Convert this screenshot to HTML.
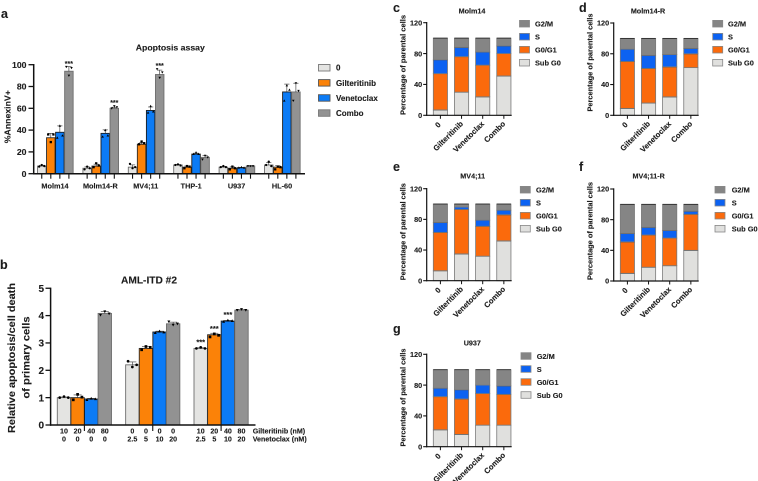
<!DOCTYPE html>
<html lang="en">
<head>
<meta charset="utf-8">
<title>Apoptosis and cell cycle figure</title>
<style>
html,body{margin:0;padding:0;background:#fff;width:758px;height:481px;overflow:hidden}
svg{display:block;filter:blur(.3px)}
text{font-family:"Liberation Sans",sans-serif;font-weight:bold;fill:#1c1c1c;stroke:#1c1c1c;stroke-width:.12px}
</style>
</head>
<body>
<svg id="fig" xmlns="http://www.w3.org/2000/svg" width="758" height="481" viewBox="0 0 758 481"></svg>
<script>
/* ---------- Panel a data ---------- */
const aGroups = ['Molm14','Molm14-R','MV4;11','THP-1','U937','HL-60'];
const aSeriesNames = ['0','Gilteritinib','Venetoclax','Combo'];
const aTicks = [0,20,40,60,80,100];
const aMeans0 = [7,5,6,8,6,8];
const aMeans1 = [33,7,27,6,5,6];
const aMeans2 = [38,37,58,18,5.5,75];
const aMeans3 = [94,60,91,15,7,75];
const aReps0 = [[6.5,8,7],[4,6.5,5],[9,5,6],[8,8.5,7.5],[6,7,6],[8,11,7]];
const aReps1 = [[36,29,36],[6,9.5,7.5],[27,29.5,28],[5,7,6.5],[4,6.5,5],[4,6.5,6]];
const aReps2 = [[33,44,35],[34,40,35],[56,62,57],[18,19.5,18],[5.5,6,5.5],[67,81,77]];
const aReps3 = [[98,90,97],[60,62,61],[96,88,93],[13,16.5,15],[7,7,7],[67,83,76]];
const aSig3 = ['***','***','***','','',''];

/* ---------- Panel b data ---------- */
const bTicks = [0,1,2,3,4,5];
const bGilt = ['10','20','40','80','0','0','0','0','10','20','40','80'];
const bVen = ['0','0','0','0','2.5','5','10','20','2.5','5','10','20'];
const bMeans = [1,1,0.95,4.08,2.2,2.8,3.4,3.7,2.8,3.3,3.8,4.2];
const bReps = [[1,1.04,1],[0.92,1.12,1.02],[0.92,0.97,0.95],[4.02,4.15,4.07],[2.33,2.12,2.2],[2.75,2.87,2.84],[3.37,3.43,3.39],[3.78,3.66,3.7],[2.8,2.84,2.8],[3.22,3.33,3.28],[3.78,3.83,3.81],[4.2,4.23,4.2]];
const bSig = ['','','','','','','','','***','***','***',''];

/* ---------- Stacked panels data ---------- */
const stackCats = ['0','Gilteritinib','Venetoclax','Combo'];
const stackTicks = [0,40,80,120];
const stackLegend = ['G2/M','S','G0/G1','Sub G0'];
const cSub = [7,30,24,51];
const cG0 = [47,46,41,29];
const cS = [18,12,17,10];
const cG2 = [28,12,18,10];
const dSub = [9,16,24,62];
const dG0 = [61,45,39,18];
const dS = [16,17,16,7];
const dG2 = [14,22,21,13];
const eSub = [13,35,32,52];
const eG0 = [50,58,39,34];
const eS = [13,3,8,6];
const eG2 = [24,4,21,8];
const fSub = [10,18,20,40];
const fG0 = [41,42,36,47];
const fS = [11,10,10,4];
const fG2 = [38,30,34,9];
const gSub = [22,16,28,28];
const gG0 = [43,46,41,40];
const gS = [11,12,11,11];
const gG2 = [24,26,20,21];

const svg = document.getElementById('fig');
const NS = 'http://www.w3.org/2000/svg';
function add(parent, tag, attrs, name, txt){
  const el = document.createElementNS(NS, tag);
  for (const k in attrs) el.setAttribute(k, attrs[k]);
  
  
  if (txt !== undefined) el.textContent = txt;
  parent.appendChild(el);
  return el;
}
function line(p,x1,y1,x2,y2,stroke,w,name){
  return add(p,'line',{x1:x1,y1:y1,x2:x2,y2:y2,stroke:stroke,'stroke-width':w},name);
}
function text(p,x,y,s,size,anchor,name,extra){
  const a = Object.assign({x:x,y:y,'font-size':size,'text-anchor':anchor||'start'},extra||{});
  return add(p,'text',a,name,s);
}
function vtext(p,x,cy,s,size,len,name){
  return add(p,'text',{transform:'translate('+x+','+cy+') rotate(-90)','font-size':size,'text-anchor':'middle',textLength:len,lengthAdjust:'spacingAndGlyphs'},name,s);
}
function marker(p,kind,x,y,r,name){
  if (kind===0) return add(p,'circle',{cx:x,cy:y,r:r,fill:'#000'},name);
  if (kind===1) return add(p,'rect',{x:x-r,y:y-r,width:2*r,height:2*r,fill:'#000'},name);
  const s = kind===2 ? 1 : -1;
  const pts = [x,y-s*r*1.15,x-r*1.1,y+s*r*.85,x+r*1.1,y+s*r*.85].map(v=>v.toFixed(2)).join(' ');
  return add(p,'polygon',{points:pts,fill:'#000'},name);
}
function sd(a){
  const m = a.reduce((s,v)=>s+v,0)/a.length;
  return Math.sqrt(a.reduce((s,v)=>s+(v-m)*(v-m),0)/(a.length-1));
}
/* Panel letters */
[['a',1,18],['b',0,269],['c',393,12],['d',579,12],['e',393,171],['f',579,171],['g',393,333]].forEach(l=>{
  text(svg,l[1],l[2],l[0],12.5,'start','panel-label-'+l[0]);
});

/* ========== Panel a ========== */
(function(){
  const g = add(svg,'g',{},'apoptosis-assay-chart');
  const y = v => 173.7 - v*1.09;
  const colors = ['#e4e4e2','#fb8208','#0c7bf5','#929292'];
  const edges = ['#6e6e6e','#2a2a2a','#1c1c1c','#6e6e6e'];
  const means = [aMeans0,aMeans1,aMeans2,aMeans3];
  const reps = [aReps0,aReps1,aReps2,aReps3];
  const bx = (gi,si) => 37.5 + gi*45.4 + si*9.05;
  means.forEach((ser,si)=>{
    ser.forEach((v,gi)=>{
      const x = bx(gi,si);
      add(g,'rect',{x:x,y:y(v),width:8.5,height:y(0)-y(v),fill:colors[si],stroke:edges[si],'stroke-width':.9},'bar-'+aGroups[gi]+'-'+aSeriesNames[si]);
      const top = y(v+sd(reps[si][gi]));
      const cx = x+4.25;
      line(g,cx,y(v),cx,top,'#333',.6,'error-bar');
      line(g,cx-2.6,top,cx+2.6,top,'#333',.6,'error-cap');
      reps[si][gi].forEach((r,i)=>{
        marker(g,si,cx+(i-1)*2.6,y(r),1.15,'replicate-point');
      });
      line(g,cx,173.7,cx,178.7,'#111',1.1,'x-tick');
    });
  });
  aSig3.forEach((s,gi)=>{
    if(!s) return;
    const top = y(Math.max.apply(null,aReps3[gi]));
    text(g,bx(gi,3)+4.25,top-1,s,7,'middle','significance-stars');
  });
  line(g,33.7,64,33.7,174.4,'#111',1.5,'y-axis');
  line(g,33,173.7,305,173.7,'#111',1.5,'x-axis');
  aTicks.forEach(t=>{
    line(g,28.5,y(t),33.7,y(t),'#111',1.3,'y-tick');
    text(g,26.5,y(t)+3.1,t,8.7,'end','y-tick-label');
  });
  aGroups.forEach((n,gi)=>{
    text(g,bx(gi,0)+17.5,188.7,n,7.3,'middle','x-category-label');
  });
  vtext(g,10.3,116.7,'%AnnexinV+',8.6,53,'y-axis-title');
  text(g,170.3,50.7,'Apoptosis assay',8.7,'middle','chart-title');
  aSeriesNames.forEach((n,i)=>{
    const yy = 64.5 + i*15.1;
    add(g,'rect',{x:318.5,y:yy,width:11.5,height:6.5,fill:colors[i],stroke:i===0||i===3?'#777':'#555','stroke-width':.9},'legend-swatch');
    text(g,336,yy+6.2,n,8,'start','legend-entry');
  });
})();

/* ========== Panel b ========== */
(function(){
  const g = add(svg,'g',{},'aml-itd-chart');
  const y = v => 425 - v*27.35;
  const colors = ['#e4e4e2','#fb8208','#0c7bf5','#929292'];
  const edges = ['#6e6e6e','#2a2a2a','#1c1c1c','#6e6e6e'];
  const bx = i => 57.3 + Math.floor(i/4)*68.35 + (i%4)*13.6;
  bMeans.forEach((v,i)=>{
    const si = i%4;
    const x = bx(i);
    add(g,'rect',{x:x,y:y(v),width:13.4,height:y(0)-y(v),fill:colors[si],stroke:edges[si],'stroke-width':.9},'bar-condition-'+(i+1));
    const top = y(v+sd(bReps[i]));
    const cx = x+6.7;
    line(g,cx,y(v),cx,top,'#333',.6,'error-bar');
    line(g,cx-4,top,cx+4,top,'#333',.6,'error-cap');
    bReps[i].forEach((r,k)=>{
      marker(g,si,cx+(k-1)*4.3,y(r),1.35,'replicate-point');
    });
    text(g,cx,433.7,bGilt[i],7.1,'middle','gilteritinib-dose');
    text(g,cx,441.7,bVen[i],7.1,'middle','venetoclax-dose');
    if(bSig[i]) text(g,cx,y(Math.max.apply(null,bReps[i]))-3,bSig[i],7.5,'middle','significance-stars');
    if(si===1) line(g,x+13.5,425,x+13.5,431,'#111',1.1,'x-tick');
  });
  line(g,50.6,287.6,50.6,425.7,'#111',1.5,'y-axis');
  line(g,50,425,255.5,425,'#111',1.5,'x-axis');
  bTicks.forEach(t=>{
    line(g,45.5,y(t),50.6,y(t),'#111',1.3,'y-tick');
    text(g,44,y(t)+3.6,t,10,'end','y-tick-label');
  });
  text(g,252.7,433.7,'Gilteritinib (nM)',7.1,'start','gilteritinib-row-label');
  text(g,252.7,441.7,'Venetoclax (nM)',7.1,'start','venetoclax-row-label');
  vtext(g,15,358,'Relative apoptosis/cell death',10.5,150,'y-axis-title-line-1');
  vtext(g,29.5,357.5,'of primary cells',10.5,82,'y-axis-title-line-2');
  text(g,149,283.5,'AML-ITD #2',10.2,'middle','chart-title');
})();

/* ========== Stacked panels ========== */
function stacked(cfg){
  const g = add(svg,'g',{},'cell-cycle-chart-'+cfg.key);
  const y = v => cfg.y0 - v*(cfg.y0-cfg.y120)/120;
  const colors = ['#e0e0de','#fb6a0c','#0c62f2','#858585'];
  const series = [cfg.sub,cfg.g0,cfg.s,cfg.g2];
  const segNames = ['sub-g0','g0-g1','s','g2-m'];
  stackCats.forEach((cat,i)=>{
    const x = cfg.ax + cfg.barStart + i*21.15;
    const w = 14.2;
    let cum = 0;
    series.forEach((ser,si)=>{
      const top = cum + ser[i];
      add(g,'rect',{x:x,y:y(top),width:w,height:y(cum)-y(top),fill:colors[si],stroke:'#7a7a7a','stroke-width':.8},'segment-'+segNames[si]+'-'+cat);
      line(g,x,y(top),x+w,y(top),'#222',.8,'segment-top-line');
      cum = top;
    });
    line(g,x+w/2,cfg.y0,x+w/2,cfg.y0+3.5,'#111',1,'x-tick');
    if(i===0){
      text(g,x+w/2-2,cfg.y0+12,cat,7.7,'middle','x-category-label',{transform:'rotate(-45 '+(x+w/2-2)+' '+(cfg.y0+10)+')'});
    } else {
      const tx = x+w/2+2, ty = cfg.y0+9;
      text(g,tx,ty,cat,7.7,'end','x-category-label',{transform:'rotate(-45 '+tx+' '+ty+')'});
    }
  });
  line(g,cfg.ax,cfg.y120-.7,cfg.ax,cfg.y0+.6,'#111',1.2,'y-axis');
  line(g,cfg.ax-.5,cfg.y0,cfg.ax+85,cfg.y0,'#111',1.2,'x-axis');
  stackTicks.forEach(t=>{
    line(g,cfg.ax-3.5,y(t),cfg.ax,y(t),'#111',1.1,'y-tick');
    text(g,cfg.ax-4.5,y(t)+2.7,t,7.3,'end','y-tick-label');
  });
  vtext(g,cfg.ylx,cfg.ylc,'Percentage of parental cells',7.4,cfg.yll,'y-axis-title');
  text(g,cfg.tx,cfg.ty,cfg.title,7.2,'middle','chart-title');
  stackLegend.forEach((n,i)=>{
    const color = colors[3-i];
    const yy = cfg.ly + i*13;
    add(g,'rect',{x:cfg.lx,y:yy,width:10,height:6.6,fill:color,stroke:'#888','stroke-width':.8},'legend-swatch');
    text(g,cfg.ltx,yy+6.1,n,7.4,'start','legend-entry');
  });
}
stacked({key:'c',title:'Molm14',ax:426.7,barStart:6.6,y0:115.3,y120:22.7,ylx:405.7,ylc:65,yll:100,tx:472,ty:13.5,lx:519.5,ltx:535,ly:20.4,sub:cSub,g0:cG0,s:cS,g2:cG2});
stacked({key:'d',title:'Molm14-R',ax:613.7,barStart:6.6,y0:115.3,y120:23,ylx:592.7,ylc:62.5,yll:98,tx:648,ty:13.5,lx:712.7,ltx:728,ly:20.4,sub:dSub,g0:dG0,s:dS,g2:dG2});
stacked({key:'e',title:'MV4;11',ax:426.7,barStart:6.6,y0:280.7,y120:188.7,ylx:405.7,ylc:231.7,yll:97,tx:472.7,ty:178.3,lx:520.3,ltx:536,ly:186.4,sub:eSub,g0:eG0,s:eS,g2:eG2});
stacked({key:'f',title:'MV4;11-R',ax:613.7,barStart:6.6,y0:281,y120:189,ylx:592.7,ylc:231,yll:98,tx:648.7,ty:178.3,lx:715,ltx:731.7,ly:186.4,sub:fSub,g0:fG0,s:fS,g2:fG2});
stacked({key:'g',title:'U937',ax:426.7,barStart:6.6,y0:446.7,y120:354.3,ylx:405.7,ylc:397.5,yll:98,tx:472.3,ty:345.5,lx:521,ltx:536.7,ly:352.7,sub:gSub,g0:gG0,s:gS,g2:gG2});
</script>
</body>
</html>
